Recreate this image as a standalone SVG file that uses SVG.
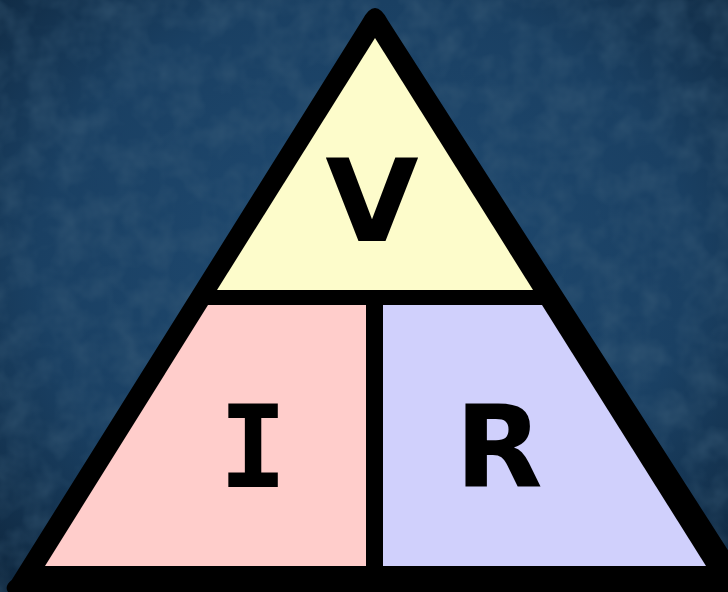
<svg xmlns="http://www.w3.org/2000/svg" width="728" height="592" viewBox="0 0 728 592">
  <defs>
    <radialGradient id="bg" cx="0.5" cy="0.45" r="0.75">
      <stop offset="0" stop-color="#204b72"/>
      <stop offset="0.6" stop-color="#1a4063"/>
      <stop offset="1" stop-color="#0e263d"/>
    </radialGradient>
    <filter id="tex" x="0" y="0" width="100%" height="100%">
      <feTurbulence type="fractalNoise" baseFrequency="0.035" numOctaves="3" seed="7" result="n"/>
      <feColorMatrix type="matrix" values="0 0 0 0 0.05  0 0 0 0 0.12  0 0 0 0 0.2  0 0 0 -1.6 1.05"/>
    </filter>
    <style>
      .lbl { font-family: "DejaVu Sans", Verdana, sans-serif; font-weight: bold; font-size: 114px; fill: #000; text-anchor: middle; }
      .lblI { font-family: "DejaVu Sans Mono", monospace; font-weight: bold; font-size: 114px; fill: #000; text-anchor: middle; }
    </style>
  </defs>
  <rect width="728" height="592" fill="url(#bg)"/>
  <rect width="728" height="592" filter="url(#tex)" opacity="0.5"/>

  <g id="triangle-frame">
    <path d="M362.3,20 Q375,-4 387.7,20 L760,600 L0,600 L0,592 L8,592 Q4,586 11.7,580 Z" fill="#000"/>
  </g>

  <g id="node-V">
    <polygon points="375,38 533,290 217,290" fill="#fdfccb"/>
    <text class="lbl" x="372" y="241" transform="translate(372 0) scale(1.06 1) translate(-372 0)">V</text>
  </g>
  <g id="node-I">
    <polygon points="208,305 366,305 366,566 45,566" fill="#ffcdcb"/>
    <text class="lblI" x="253" y="487">I</text>
  </g>
  <g id="node-R">
    <polygon points="383,305 542,305 706,566 383,566" fill="#d0d0fc"/>
    <text class="lbl" x="499" y="487">R</text>
  </g>
  <g id="connectors"/>
</svg>
